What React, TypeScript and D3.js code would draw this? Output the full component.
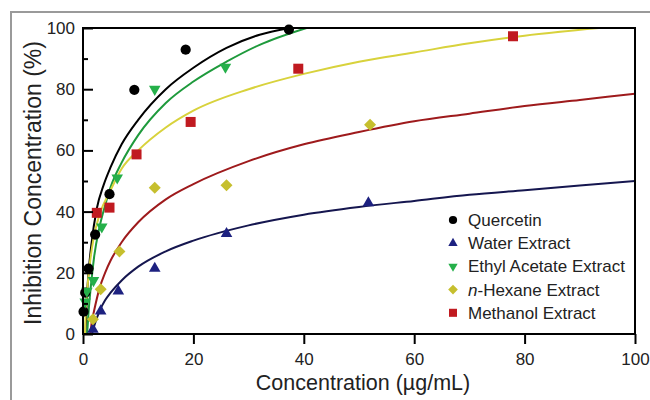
import React, { useEffect, useRef } from 'react';
import * as d3 from 'd3';

// tick values
const xTicks = [0, 20, 40, 60, 80, 100];
const yTicks = [0, 20, 40, 60, 80, 100];
const yMinorTicks = [10, 30, 50, 70, 90];

// measured points [concentration, inhibition]
const quercetinPts: [number, number][] = [[0.1, 7.3], [0.4, 13.5], [1.0, 21.4], [2.2, 32.5], [4.8, 45.7], [9.3, 79.8], [18.6, 92.9], [37.3, 99.5]];
const waterPts: [number, number][] = [[1.8, 1.5], [3.2, 7.5], [6.4, 14], [13, 21.4], [26, 32.8], [51.7, 42.8]];
const ethylPts: [number, number][] = [[0.4, 10.5], [0.7, 14], [1.9, 17.5], [3.4, 35], [6.2, 51], [13, 80], [25.8, 87.2]];
const hexanePts: [number, number][] = [[1.8, 4.8], [3.2, 14.6], [6.6, 27], [13, 47.8], [26, 48.6], [52, 68.4]];
const methanolPts: [number, number][] = [[2.5, 39.6], [4.8, 41.3], [9.7, 58.7], [19.5, 69.3], [39, 86.7], [77.9, 97.3]];

// fitted curves
const quercetinCurve: [number, number][] = [[0.45, 0], [0.7, 12], [1, 20], [1.5, 29], [2.5, 41], [3.7, 48.5], [5, 54.5], [7, 62], [10, 70], [15, 80], [20, 87], [26, 93.5], [32, 97.8], [37.5, 100]];
const waterCurve: [number, number][] = [[1.63, 0], [2, 2.5], [3, 7.5], [4, 11], [5, 13.5], [7, 17.5], [10, 22], [15, 27], [20, 30.5], [30, 35.5], [40, 39], [50, 41.5], [60, 43.5], [70, 45.5], [80, 47], [90, 48.5], [100, 50]];
const ethylCurve: [number, number][] = [[0.75, 0], [1, 7], [1.5, 17], [2, 25], [3, 35], [4, 42], [5, 48], [7, 56], [10, 65], [15, 75.5], [20, 82.5], [26, 89], [32, 94.5], [40.5, 100]];
const hexaneCurve: [number, number][] = [[1.33, 0], [1.6, 4], [2, 7.5], [3, 15], [4, 20], [5, 24], [7, 30], [10, 36.5], [15, 44], [20, 49], [30, 56.5], [40, 62], [50, 66], [60, 69.5], [70, 72], [80, 74.5], [90, 76.5], [100, 78.5]];
const methanolCurve: [number, number][] = [[0.35, 0], [0.5, 7], [1, 19], [2, 32], [3, 39], [5, 47], [7, 54], [10, 60], [15, 67.5], [20, 73], [30, 80], [40, 85], [50, 89], [60, 92], [70, 95], [80, 97.5], [93.5, 100]];

type Shape = 'circle' | 'up' | 'down' | 'diamond' | 'square';

const series = [
  { name: 'Quercetin', pts: quercetinPts, curve: quercetinCurve, fill: '#000000', line: '#000000', shape: 'circle' as Shape },
  { name: 'Water Extract', pts: waterPts, curve: waterCurve, fill: '#1d2180', line: '#15164f', shape: 'up' as Shape },
  { name: 'Ethyl Acetate Extract', pts: ethylPts, curve: ethylCurve, fill: '#25b04a', line: '#1e9a3c', shape: 'down' as Shape },
  { name: 'n-Hexane Extract', pts: hexanePts, curve: hexaneCurve, fill: '#c6bf2e', line: '#9e1a1c', shape: 'diamond' as Shape },
  { name: 'Methanol Extract', pts: methanolPts, curve: methanolCurve, fill: '#c01a20', line: '#d8d23c', shape: 'square' as Shape },
];

const W = 650;
const H = 400;
const margin = { left: 83, right: 15, top: 28, bottom: 66 };
const FONT = '"Liberation Sans", Arial, Helvetica, sans-serif';

const x = d3.scaleLinear().domain([0, 100]).range([margin.left, W - margin.right]);
const y = d3.scaleLinear().domain([0, 100]).range([H - margin.bottom, margin.top]);

const symbolPath = (shape: Shape, scale = 1) => {
  const gen = d3.symbol();
  if (shape === 'circle') return gen.type(d3.symbolCircle).size(82 * scale)();
  if (shape === 'square') return gen.type(d3.symbolSquare).size(100 * scale)();
  if (shape === 'diamond') return gen.type(d3.symbolSquare).size(72 * scale)();
  return gen.type(d3.symbolTriangle).size(58 * scale)();
};

const rotation = (shape: Shape) => (shape === 'down' ? 180 : shape === 'diamond' ? 45 : 0);

const App = () => {
  const xAxisRef = useRef<SVGGElement>(null);
  const yAxisRef = useRef<SVGGElement>(null);
  const yMinorRef = useRef<SVGGElement>(null);

  useEffect(() => {
    const xa = d3.select(xAxisRef.current!);
    xa.selectAll('*').remove();
    xa.call(d3.axisBottom(x).tickValues(xTicks).tickSizeInner(10).tickSizeOuter(0).tickPadding(9));
    xa.select('.domain').remove();
    xa.selectAll('line').attr('stroke', '#000').attr('stroke-width', 2);
    xa.selectAll('text').attr('font-size', 17).attr('font-family', FONT).attr('fill', '#222');

    const ya = d3.select(yAxisRef.current!);
    ya.selectAll('*').remove();
    ya.call(d3.axisLeft(y).tickValues(yTicks).tickSizeInner(-10).tickSizeOuter(0).tickPadding(8));
    ya.select('.domain').remove();
    ya.selectAll('line').attr('stroke', '#000').attr('stroke-width', 2);
    ya.selectAll('text').attr('font-size', 17).attr('font-family', FONT).attr('fill', '#222');

    const ym = d3.select(yMinorRef.current!);
    ym.selectAll('*').remove();
    ym.call(d3.axisLeft(y).tickValues(yMinorTicks).tickSizeInner(-5).tickSizeOuter(0).tickFormat(() => ''));
    ym.select('.domain').remove();
    ym.selectAll('line').attr('stroke', '#000').attr('stroke-width', 2);
  }, []);

  const line = d3
    .line<[number, number]>()
    .x((d) => x(d[0]))
    .y((d) => y(d[1]))
    .curve(d3.curveMonotoneX);

  const legendX = 453;
  const legendY0 = 220;
  const legendStep = 23.2;

  return (
    <svg width={W} height={H} style={{ position: 'absolute', left: 0, top: 0, background: '#fff' }} fontFamily={FONT}>
      <rect width={W} height={H} fill="#fff" />
      <path d={`M11,${H} V12 H${W}`} fill="none" stroke="#9a9a9a" strokeWidth={2} />
      <defs>
        <clipPath id="plot-clip">
          <rect x={x(0)} y={y(100)} width={x(100) - x(0)} height={y(0) - y(100)} />
        </clipPath>
      </defs>

      <g clipPath="url(#plot-clip)">
        {series.map((s) => (
          <path key={s.name} d={line(s.curve) ?? ''} fill="none" stroke={s.line} strokeWidth={2} />
        ))}
      </g>

      {series.map((s) => (
        <g key={s.name + '-pts'}>
          {s.pts.map((p, i) => (
            <path
              key={i}
              d={symbolPath(s.shape) ?? ''}
              transform={`translate(${x(p[0])},${y(p[1])}) rotate(${rotation(s.shape)})`}
              fill={s.fill}
            />
          ))}
        </g>
      ))}

      <rect x={x(0)} y={y(100)} width={x(100) - x(0)} height={y(0) - y(100)} fill="none" stroke="#000" strokeWidth={2} />
      <g ref={xAxisRef} transform={`translate(0,${y(0)})`} />
      <g ref={yAxisRef} transform={`translate(${x(0)},0)`} />
      <g ref={yMinorRef} transform={`translate(${x(0)},0)`} />

      {series.map((s, i) => (
        <g key={s.name + '-leg'} transform={`translate(${legendX},${legendY0 + i * legendStep})`}>
          <path d={symbolPath(s.shape, 0.65) ?? ''} transform={`rotate(${rotation(s.shape)})`} fill={s.fill} />
          <text x={15} y={6} fontSize={17} fill="#222">
            {s.name.startsWith('n-') ? (
              <>
                <tspan fontStyle="italic">n</tspan>
                {s.name.slice(1)}
              </>
            ) : (
              s.name
            )}
          </text>
        </g>
      ))}

      <text x={(x(0) + x(100)) / 2 + 4} y={390} textAnchor="middle" fontSize={21.5} fill="#222">
        Concentration (µg/mL)
      </text>
      <text
        transform={`translate(41,${(y(0) + y(100)) / 2 + 2}) rotate(-90)`}
        textAnchor="middle"
        fontSize={23}
        fill="#222"
      >
        Inhibition Concentration (%)
      </text>
    </svg>
  );
};

export default App;
